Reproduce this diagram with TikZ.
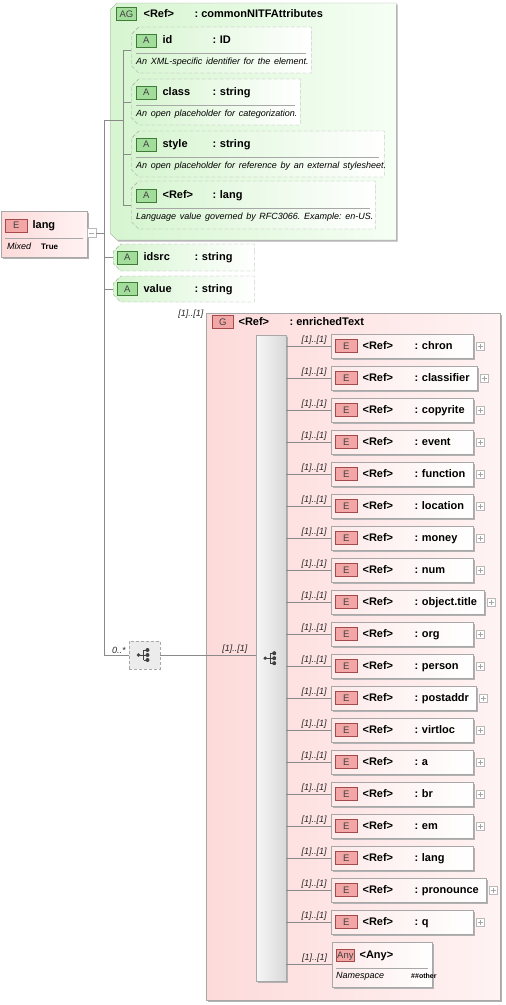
\documentclass[tikz,border=0pt]{standalone}
\usepackage{fontspec}
\setmainfont{Liberation Sans}
\usetikzlibrary{positioning}
\usetikzlibrary{shapes}
\usetikzlibrary{shadows}
\frenchspacing

\definecolor{linegray}{HTML}{8A8A8A}
\definecolor{boxgray}{HTML}{A8A8A8}
\definecolor{pinkleft}{HTML}{FDDADA}
\definecolor{pinkright}{HTML}{FFF3F3}
\definecolor{elemleft}{HTML}{FDEAEA}
\definecolor{efill}{HTML}{F3A6A6}
\definecolor{eframe}{HTML}{A54A4A}
\definecolor{greenleft}{HTML}{D6F5D0}
\definecolor{greenright}{HTML}{F6FFF5}
\definecolor{afill}{HTML}{A3DD9B}
\definecolor{aframe}{HTML}{3E7C38}

\newcommand{\tagbox}[4]{{\setlength{\fboxsep}{0pt}\setlength{\fboxrule}{0.7pt}\fcolorbox{#1}{#2}{\makebox[#3]{\rule[-3pt]{0pt}{12pt}\mdseries\fontsize{9.5}{10}\selectfont\color{black!75}#4}}}}
\newcommand{\desc}{\mdseries\itshape\fontsize{9}{10}\selectfont}
\newcommand{\sepline}{\par\vspace{6pt}{\color{boxgray}\hrule height 0.6pt}\vspace{4pt}}
\newcommand{\elref}[1]{\tagbox{eframe}{efill}{21pt}{E}\hspace{5pt}\makebox[52pt][l]{<Ref>}: #1}
\newcommand{\attr}[3]{\tagbox{aframe}{afill}{19pt}{A}\hspace{6pt}\makebox[50pt][l]{#1}: #2\sepline\mbox{\desc #3}}

\begin{document}
\begin{tikzpicture}[
    x=1pt, y=-1pt,
    font=\bfseries\fontsize{11}{13}\selectfont
]
\tikzset{
    boxshadow/.style = {drop shadow={shadow xshift=1.5pt, shadow yshift=-1.5pt, fill=black!30, opacity=1}},
    elem/.style = {draw=boxgray, left color=elemleft, right color=white, anchor=west, text width=134pt, minimum height=24pt, inner xsep=4pt, inner ysep=0pt, align=left, boxshadow},
    plusbox/.style = {draw=gray!55, fill=white, minimum size=8pt, inner sep=0pt, label distance=3pt, path picture={\draw[gray!70, line width=0.6pt] (path picture bounding box.center) +(-2.5,0) -- +(2.5,0) (path picture bounding box.center) +(0,-2.5) -- +(0,2.5);}},
    elemplus/.style = {elem, label={[plusbox]right:}},
    attrbox/.style = {chamfered rectangle, chamfered rectangle corners={north west,south west}, chamfered rectangle xsep=4pt, draw=boxgray, dash pattern=on 4pt off 2pt, left color=greenleft, right color=white, anchor=west, inner xsep=0pt, inner ysep=2pt, align=left},
    agbox/.style = {chamfered rectangle, chamfered rectangle corners={north west,south west}, chamfered rectangle xsep=8pt, draw=boxgray, left color=greenleft, right color=greenright, anchor=west, boxshadow},
    pinkbox/.style = {draw=boxgray, left color=pinkleft, right color=pinkright, anchor=north west, inner xsep=4pt, align=left, boxshadow},
    barbox/.style = {draw=boxgray, left color=gray!6, right color=gray!30, anchor=north west, inner sep=0pt, boxshadow},
    seqbox/.style = {draw=boxgray, dash pattern=on 3pt off 2pt, fill=gray!15, minimum width=31pt, minimum height=28pt, inner sep=0pt},
    minusbox/.style = {draw=gray!55, fill=white, minimum size=9pt, inner sep=0pt, path picture={\draw[gray!70, line width=0.6pt] (path picture bounding box.center) +(-2.5,0) -- +(2.5,0);}},
    title/.style = {anchor=west, inner xsep=4pt},
    conn/.style = {draw=linegray, line width=0.8pt},
    lbl/.style = {font=\desc, text=black!85, inner sep=1.5pt, above},
    seqicon/.pic = {
        \draw[black!75, line width=0.9pt] (-5,0) -- (2,0) (-1,-5) -- (-1,5) (-1,-5) -- (2,-5) (-1,5) -- (2,5);
        \fill[black!75] (-6,0) circle (1.8) (3,-5) circle (2) (3,0) circle (2) (3,5) circle (2);
    }
}
\useasboundingbox (0,0) rectangle (506,1005);

% element lang
\node[pinkbox, text width=78pt, minimum height=46pt, inner ysep=3pt] (lang) at (1,211) {\tagbox{eframe}{efill}{21pt}{E}\hspace{5pt}lang\sepline\mbox{\desc\hspace{2pt}Mixed\hspace{10pt}}{\fontsize{8}{9}\selectfont True}};
\node[minusbox] (langminus) at (91.5,233) {};

% attribute group
\node[agbox, minimum width=286pt, minimum height=237pt] (ag) at (110,121.5) {};
\node[title] (agtitle) at (112,14) {\tagbox{aframe}{afill}{19pt}{AG}\hspace{7pt}\makebox[51pt][l]{<Ref>}: commonNITFAttributes};
\node[attrbox, minimum width=180pt, text width=170pt, minimum height=46pt] (id) at (131,50) {\attr{id}{ID}{An XML-specific identifier for the element.}};
\node[attrbox, minimum width=169pt, text width=159pt, minimum height=46pt] (class) at (131,102) {\attr{class}{string}{An open placeholder for categorization.}};
\node[attrbox, minimum width=253pt, text width=243pt, minimum height=46pt] (style) at (131,154) {\attr{style}{string}{An open placeholder for reference by an external stylesheet.}};
\node[attrbox, minimum width=244pt, text width=234pt, minimum height=48pt] (reflang) at (131,205) {\attr{<Ref>}{lang}{Language value governed by RFC3066. Example: en-US.}};

% attributes
\node[attrbox, minimum width=141pt, text width=133pt, minimum height=27pt] (idsrc) at (113,257.5) {\tagbox{aframe}{afill}{19pt}{A}\hspace{6pt}\makebox[51pt][l]{idsrc}: string};
\node[attrbox, minimum width=141pt, text width=133pt, minimum height=26pt] (value) at (113,289) {\tagbox{aframe}{afill}{19pt}{A}\hspace{6pt}\makebox[51pt][l]{value}: string};

% group enrichedText
\node[pinkbox, minimum width=294pt, minimum height=687pt, inner sep=0pt] (grp) at (206,313) {};
\node[lbl, anchor=east] (grpocc) at (205,314) {[1]..[1]};
\node[title] (grptitle) at (208,322) {\tagbox{eframe}{efill}{20pt}{G}\hspace{5pt}\makebox[51pt][l]{<Ref>}: enrichedText};
\node[barbox, minimum width=30pt, minimum height=646pt] (bar) at (256,335) {};
\pic at (bar) {seqicon};
\node[seqbox] (seq) at (144.5,655) {};
\pic at (seq) {seqicon};

% elements
\node[elemplus] (chron) at (331,346) {\elref{chron}};
\node[elemplus, text width=138pt] (classifier) at (331,378) {\elref{classifier}};
\node[elemplus] (copyrite) at (331,410) {\elref{copyrite}};
\node[elemplus] (event) at (331,442) {\elref{event}};
\node[elemplus] (function) at (331,474) {\elref{function}};
\node[elemplus] (location) at (331,506) {\elref{location}};
\node[elemplus] (money) at (331,538) {\elref{money}};
\node[elemplus] (num) at (331,570) {\elref{num}};
\node[elemplus, text width=145pt] (objtitle) at (331,602) {\elref{object.title}};
\node[elemplus] (org) at (331,634) {\elref{org}};
\node[elemplus] (person) at (331,666) {\elref{person}};
\node[elemplus, text width=137pt] (postaddr) at (331,698) {\elref{postaddr}};
\node[elemplus] (virtloc) at (331,730) {\elref{virtloc}};
\node[elemplus] (ea) at (331,762) {\elref{a}};
\node[elemplus] (br) at (331,794) {\elref{br}};
\node[elemplus] (em) at (331,826) {\elref{em}};
\node[elem] (elang) at (331,858) {\elref{lang}};
\node[elemplus, text width=147pt] (pronounce) at (331,890) {\elref{pronounce}};
\node[elemplus] (q) at (331,922) {\elref{q}};
\node[pinkbox, left color=elemleft, right color=white, text width=92pt, minimum height=45pt, inner ysep=3pt] (any) at (332,942) {\tagbox{eframe}{efill}{17pt}{Any}\hspace{5pt}<Any>\sepline\mbox{\desc Namespace\hspace{27pt}}{\fontsize{7}{8}\selectfont\#\#other}};

% connectors
\coordinate (fork) at (104,233);
\coordinate (agfork) at (123,120);
\draw[conn] (langminus) -- (fork);
\draw[conn] (fork) |- (agfork);
\draw[conn] (fork) |- (idsrc);
\draw[conn] (fork) |- (value);
\draw[conn] (fork) |- node[lbl, pos=0.8] {0..*} (seq);
\draw[conn] (agfork) |- (id);
\draw[conn] (agfork) |- (class);
\draw[conn] (agfork) |- (style);
\draw[conn] (agfork) |- (reflang);
\draw[conn] (seq) -- node[lbl, pos=0.78] {[1]..[1]} (seq -| bar.west);
\draw[conn] (bar.east |- chron) edge node[lbl, pos=0.62] {[1]..[1]} (chron);
\draw[conn] (bar.east |- classifier) edge node[lbl, pos=0.62] {[1]..[1]} (classifier);
\draw[conn] (bar.east |- copyrite) edge node[lbl, pos=0.62] {[1]..[1]} (copyrite);
\draw[conn] (bar.east |- event) edge node[lbl, pos=0.62] {[1]..[1]} (event);
\draw[conn] (bar.east |- function) edge node[lbl, pos=0.62] {[1]..[1]} (function);
\draw[conn] (bar.east |- location) edge node[lbl, pos=0.62] {[1]..[1]} (location);
\draw[conn] (bar.east |- money) edge node[lbl, pos=0.62] {[1]..[1]} (money);
\draw[conn] (bar.east |- num) edge node[lbl, pos=0.62] {[1]..[1]} (num);
\draw[conn] (bar.east |- objtitle) edge node[lbl, pos=0.62] {[1]..[1]} (objtitle);
\draw[conn] (bar.east |- org) edge node[lbl, pos=0.62] {[1]..[1]} (org);
\draw[conn] (bar.east |- person) edge node[lbl, pos=0.62] {[1]..[1]} (person);
\draw[conn] (bar.east |- postaddr) edge node[lbl, pos=0.62] {[1]..[1]} (postaddr);
\draw[conn] (bar.east |- virtloc) edge node[lbl, pos=0.62] {[1]..[1]} (virtloc);
\draw[conn] (bar.east |- ea) edge node[lbl, pos=0.62] {[1]..[1]} (ea);
\draw[conn] (bar.east |- br) edge node[lbl, pos=0.62] {[1]..[1]} (br);
\draw[conn] (bar.east |- em) edge node[lbl, pos=0.62] {[1]..[1]} (em);
\draw[conn] (bar.east |- elang) edge node[lbl, pos=0.62] {[1]..[1]} (elang);
\draw[conn] (bar.east |- pronounce) edge node[lbl, pos=0.62] {[1]..[1]} (pronounce);
\draw[conn] (bar.east |- q) edge node[lbl, pos=0.62] {[1]..[1]} (q);
\draw[conn] (bar.east |- any) edge node[lbl, pos=0.62] {[1]..[1]} (any);
\end{tikzpicture}
\end{document}
